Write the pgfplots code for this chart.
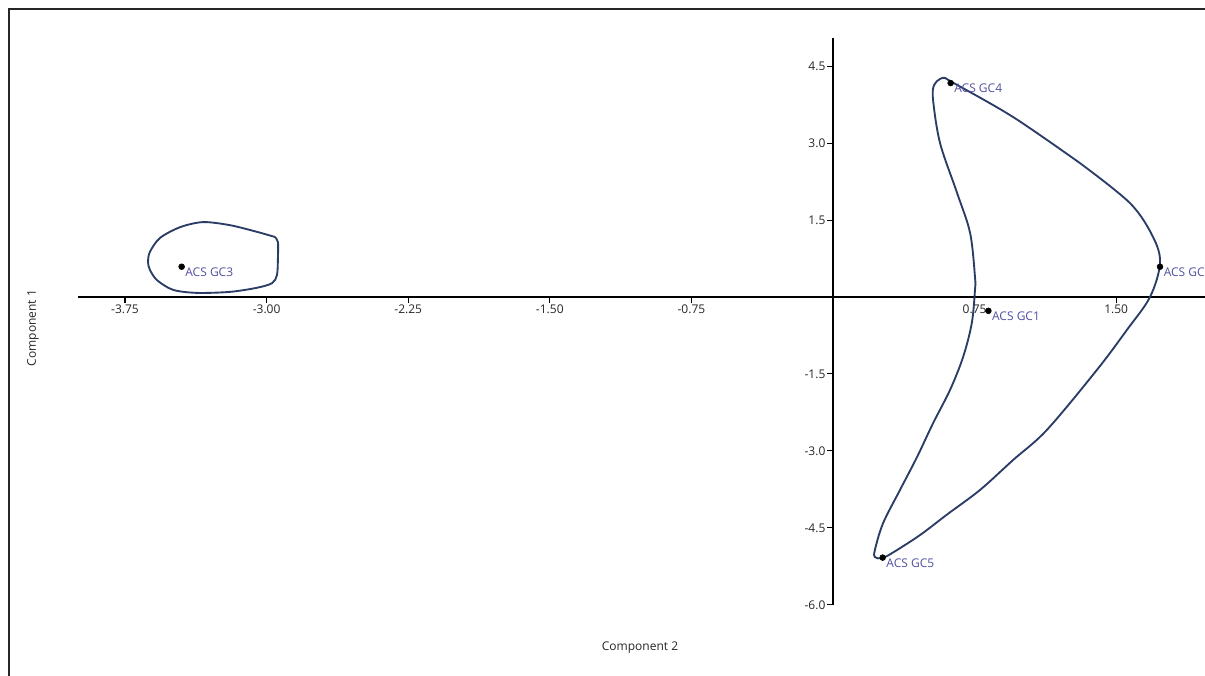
\documentclass[border=0pt]{standalone}
\usepackage{pgfplots}
\pgfplotsset{compat=1.18}
\usepackage{fontspec}
\setmainfont{Open Sans}
\definecolor{hull}{HTML}{2B3D66}
\definecolor{lab}{HTML}{5050A0}
\begin{document}
\begin{tikzpicture}
\path[use as bounding box, clip] (0,0) rectangle (903.75pt,506.25pt);
\draw[line width=0.8pt, black!85] (6.75pt,-5pt) -- (6.75pt,499.5pt) -- (910pt,499.5pt);
\begin{axis}[
  at={(624.75pt,283.5pt)}, anchor=origin,
  x=141.6pt, y=38.475pt,
  xmin=-4.0, xmax=1.99, ymin=-6.0, ymax=5.05,
  axis lines=middle, clip=false,
  axis line style={-, line width=0.9pt, black},
  tick align=outside,
  major tick length=4.5pt,
  tick style={black, line width=0.8pt},
  xtick={-3.75,-3,-2.25,-1.5,-0.75,0.75,1.5},
  xticklabels={-3.75,-3.00,-2.25,-1.50,-0.75,0.75,1.50},
  ytick={-6,-4.5,-3,-1.5,1.5,3,4.5},
  yticklabels={-6.0,-4.5,-3.0,-1.5,1.5,3.0,4.5},
  ticklabel style={font=\fontsize{9}{10}\selectfont, text=black!85},
  xticklabel style={inner sep=1.5pt},
  yticklabel style={inner sep=1pt},
]
% left hull
\addplot[hull, line width=1.4pt, smooth, tension=0.5] coordinates {
(-2.956,1.17) (-2.940,1.07) (-2.940,0.76) (-2.945,0.43) (-2.971,0.27)
(-3.051,0.18) (-3.194,0.10) (-3.369,0.08) (-3.496,0.14) (-3.581,0.33)
(-3.618,0.53) (-3.628,0.68) (-3.618,0.88) (-3.565,1.15) (-3.459,1.36)
(-3.337,1.46) (-3.194,1.40) (-3.051,1.27) (-2.956,1.17)
};
% right hull
\addplot[hull, line width=1.4pt, smooth, tension=0.55] coordinates {
(1.308,2.61) (1.573,1.83) (1.695,1.17) (1.732,0.66) (1.679,0.0)
(1.557,-0.64) (1.398,-1.42) (1.133,-2.59) (0.953,-3.18) (0.779,-3.76)
(0.604,-4.24) (0.461,-4.64) (0.318,-4.98) (0.260,-5.09) (0.222,-5.07)
(0.222,-4.93) (0.265,-4.41) (0.355,-3.76) (0.445,-3.12) (0.530,-2.46)
(0.620,-1.81) (0.689,-1.17) (0.735,-0.51) (0.752,0.14) (0.752,0.39)
(0.726,1.25) (0.657,2.03) (0.567,3.00) (0.530,3.84) (0.535,4.13)
(0.567,4.25) (0.593,4.27) (0.630,4.19) (0.953,3.51) (1.308,2.61)
};
\addplot[only marks, mark=*, mark size=2.2pt, black,
  point meta=explicit symbolic,
  nodes near coords,
  nodes near coords style={anchor=west, inner sep=0pt, xshift=2.6pt, yshift=-4pt,
     text=lab, font=\fontsize{9}{10}\selectfont}]
  table[col sep=comma, x=x, y=y, meta=label] {
x,y,label
0.823,-0.27,ACS GC1
1.732,0.59,ACS GC2
-3.450,0.59,ACS GC3
0.623,4.17,ACS GC4
0.263,-5.08,ACS GC5
};
\end{axis}
\node[rotate=90, font=\fontsize{9}{10}\selectfont, text=black!85] at (24.75pt,260.25pt) {Component 1};
\node[font=\fontsize{9}{10}\selectfont, text=black!85] at (480pt,20.25pt) {Component 2};
\end{tikzpicture}
\end{document}
